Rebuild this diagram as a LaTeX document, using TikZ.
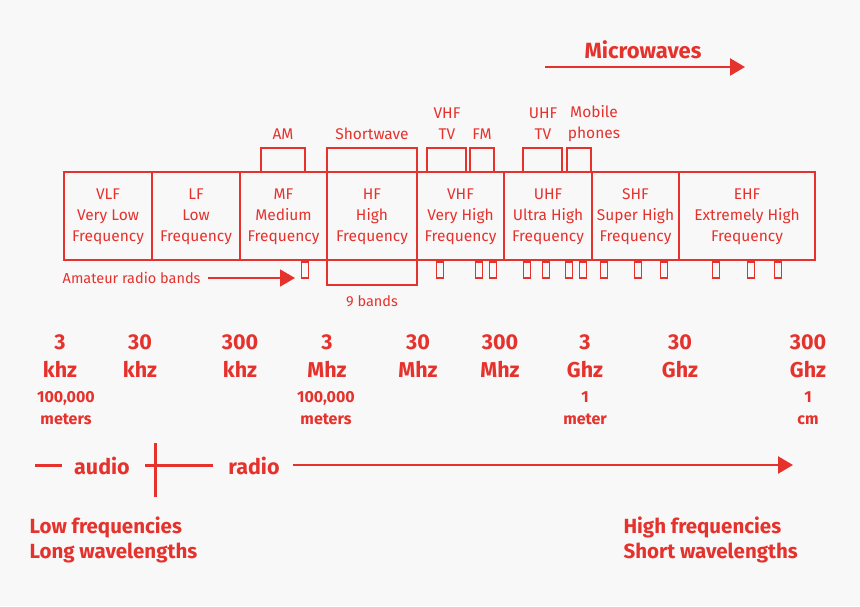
\documentclass[tikz,border=0pt]{standalone}
\usepackage{fontspec}
\setmainfont{Fira Sans}
\usetikzlibrary{arrows.meta}
\definecolor{specred}{HTML}{E5322D}
\definecolor{bggray}{HTML}{F8F8F8}
\tikzset{
  band/.style={draw=specred,line width=2.4pt},
  bandtxt/.style={text=specred,font=\fontsize{15.5}{21}\selectfont,align=center},
  freq/.style={text=specred,font=\bfseries\fontsize{21.5}{28}\selectfont,align=center},
  wave/.style={text=specred,font=\bfseries\fontsize{16}{22}\selectfont,align=center},
  ham/.style={draw=specred,line width=1.6pt},
  arr/.style={specred,line width=2.4pt,-{Triangle[length=15pt,width=17pt]}}
}
\begin{document}
\begin{tikzpicture}[x=1pt,y=-1pt]
  \fill[bggray] (0,0) rectangle (860,606);
  \useasboundingbox (0,0) rectangle (860,606);
  % microwaves
  \node[text=specred,font=\bfseries\fontsize{22}{26}\selectfont] (micro) at (643,50) {Microwaves};
  \coordinate (m0) at (545,67); \coordinate (m1) at (745,67);
  \draw[arr] (m0) -- (m1);
  % top bands
  \draw[band] (261,148) rectangle (305,172);
  \draw[band] (327,148) rectangle (417,285);
  \draw[band] (427,148) rectangle (466,172);
  \draw[band] (470,148) rectangle (494,172);
  \draw[band] (523,148) rectangle (562,172);
  \draw[band] (567,148) rectangle (591,172);
  \node[bandtxt] (am) at (283,134) {AM};
  \node[bandtxt] (sw) at (372,134) {Shortwave};
  \node[bandtxt] (vtv) at (447,124) {VHF\\TV};
  \node[bandtxt] (fm) at (482,134) {FM};
  \node[bandtxt] (utv) at (543,124) {UHF\\TV};
  \node[bandtxt] (mob) at (594,124) {Mobile\\phones};
  % main bands
  \foreach \a/\b/\t [count=\i] in {64/152/{VLF\\Very Low\\Frequency},152/240/{LF\\Low\\Frequency},
      240/327/{MF\\Medium\\Frequency},327/417/{HF\\High\\Frequency},417/504/{VHF\\Very High\\Frequency},
      504/592/{UHF\\Ultra High\\Frequency},592/679/{SHF\\Super High\\Frequency},679/815/{EHF\\Extremely High\\Frequency}}{
    \draw[band] (\a,172) rectangle (\b,260);
    \node[bandtxt] (b\i) at ({(\a+\b)/2},217) {\t};
  }
  % amateur radio bands
  \foreach \x in {305,440,479,493,527,546,569,583,604,638,664,716,751,778}
    \draw[ham] (\x-3.5,262) rectangle (\x+3.5,278);
  \node[bandtxt,font=\fontsize{14.5}{18}\selectfont,anchor=east] (ama) at (204,278) {Amateur radio bands};
  \coordinate (h1) at (295,278);
  \draw[arr,line width=1.8pt] (ama.east) ++(4,0) -- (h1);
  \node[bandtxt,font=\fontsize{14.5}{18}\selectfont] (nine) at (372,301) {9 bands};
  % frequencies
  \foreach \x/\n/\u in {60/3/khz,140/30/khz,240/300/khz,327/3/Mhz,418/30/Mhz,500/300/Mhz,585/3/Ghz,680/30/Ghz,808/300/Ghz}
    \node[freq] at (\x,356) {\n\\\u};
  \node[wave] (w1) at (66,408) {100,000\\meters};
  \node[wave] (w2) at (326,408) {100,000\\meters};
  \node[wave] (w3) at (585,408) {1\\meter};
  \node[wave] (w4) at (808,408) {1\\cm};
  % audio / radio
  \node[freq] (audio) at (102,466) {audio};
  \node[freq] (radio) at (254,466) {radio};
  \coordinate (a0) at (35,465); \coordinate (a1) at (62,465);
  \draw[specred,line width=3pt] (a0) -- (a1);
  \coordinate (s0) at (155,443); \coordinate (s1) at (155,497);
  \draw[specred,line width=3pt] (s0) -- (s1);
  \coordinate (s2) at (145,465); \coordinate (s3) at (213,465);
  \draw[specred,line width=3pt] (s2) -- (s3);
  \coordinate (r0) at (293,465); \coordinate (r1) at (793,465);
  \draw[arr] (r0) -- (r1);
  % bottom
  \node[freq,align=left,anchor=west,font=\bfseries\fontsize{20.5}{25}\selectfont] (low) at (26,540) {Low frequencies\\Long wavelengths};
  \node[freq,align=left,anchor=west,font=\bfseries\fontsize{20.5}{25}\selectfont] (high) at (620,540) {High frequencies\\Short wavelengths};
\end{tikzpicture}
\end{document}
